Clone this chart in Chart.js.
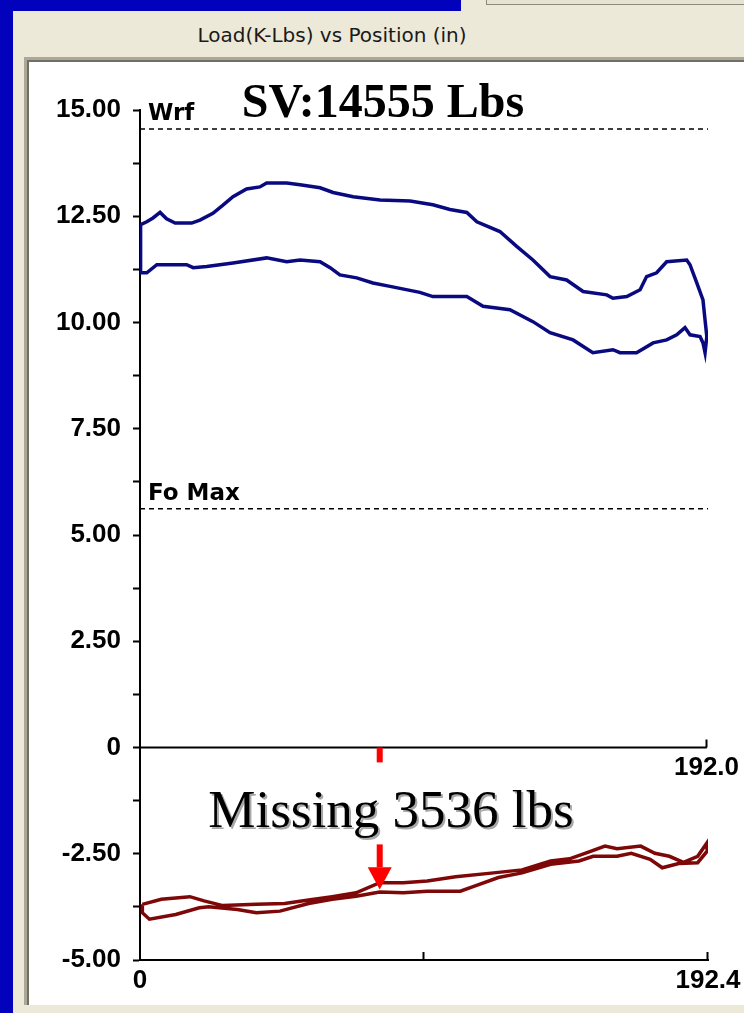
<!DOCTYPE html>
<html>
<head>
<meta charset="utf-8">
<script src="https://cdn.jsdelivr.net/npm/chart.js@4.4.1/dist/chart.umd.min.js"></script>
<style>
  html, body { margin: 0; padding: 0; width: 744px; height: 1013px; overflow: hidden; background: #0202bd; }
  #win { position: absolute; left: 13px; top: 11px; width: 731px; height: 1002px; background: #ece9d8; }
  #tab { position: absolute; left: 461px; top: 0; width: 283px; height: 14px; background: #ece9d8; }
  #tabbox { position: absolute; left: 25px; top: -1px; width: 270px; height: 4px; border: 1px solid #8c8a7e; background: #e6e3d3; }
  #title { position: absolute; left: 0; top: 23px; width: 664px; text-align: center; font: 20px "DejaVu Sans"; color: #1a1a1a; }
  #panel { position: absolute; left: 24px; top: 57px; width: 720px; height: 948px; background: #fff;
           border-left: 3px solid #aca899; border-top: 3px solid #aca899; box-sizing: border-box;
           box-shadow: inset 2px 2px 0 #716f64; }
  #card { position: absolute; left: 30px; top: 62px; }
</style>
</head>
<body>
<div id="win"></div>
<div id="tab"><div id="tabbox"></div></div>
<div id="title">Load(K-Lbs) vs Position (in)</div>
<div id="panel"></div>
<canvas id="card" width="714" height="943"></canvas>
<script>
// ===================== surface card (K-Lbs vs in) =====================
// upstroke left -> right, then downstroke right -> left
var surfacePos = [0.2, 0.2, 2.3, 4.4, 6.8, 9.0, 11.9, 17.5, 20.3, 24.7, 28.1, 31.5, 36.1, 40.6, 42.9, 49.7,
  54.2, 61.0, 65.4, 72.2, 81.3, 91.5, 99.2, 105.0, 110.7, 114.1, 121.9, 127.6, 133.1, 138.9, 144.5, 150.1,
  158.1, 160.2, 164.9, 169.4, 171.6, 175.0, 178.4, 185.2, 186.3, 188.6, 190.7, 191.4, 192.0, 191.4,
  190.7, 189.7, 186.3, 184.6, 181.8, 178.4, 173.8, 168.2, 162.6, 160.2, 153.4, 146.7, 138.9, 133.1, 125.3,
  116.2, 110.7, 99.2, 94.8, 84.7, 78.9, 73.4, 67.7, 64.4, 61.0, 54.2, 49.7, 42.9, 31.5, 22.6, 18.0, 15.8,
  9.0, 5.7, 2.3, 0.2, 0.2];
var surfaceLoad = [11.94, 12.30, 12.37, 12.46, 12.59, 12.44, 12.34, 12.34, 12.41, 12.57, 12.76, 12.96, 13.14, 13.19, 13.28, 13.28,
  13.24, 13.17, 13.06, 12.96, 12.88, 12.86, 12.77, 12.66, 12.59, 12.37, 12.14, 11.79, 11.47, 11.08, 11.00, 10.73,
  10.65, 10.57, 10.61, 10.77, 11.08, 11.17, 11.43, 11.47, 11.36, 10.93, 10.53, 10.06, 9.67, 9.29,
  9.52, 9.67, 9.71, 9.88, 9.71, 9.59, 9.52, 9.29, 9.29, 9.36, 9.29, 9.59, 9.76, 10.02, 10.30,
  10.38, 10.61, 10.61, 10.71, 10.85, 10.93, 11.05, 11.12, 11.29, 11.43, 11.47, 11.43, 11.52, 11.40, 11.32, 11.29, 11.36,
  11.36, 11.36, 11.17, 11.17, 11.94];

// ===================== downhole card =====================
var downholePos = [0.8, 7.2, 16.9, 21.7, 28.1, 39.4, 49.0, 57.1, 65.1, 73.2, 81.2, 89.2, 97.3, 106.9, 119.8,
  129.4, 139.1, 145.5, 151.9, 157.5, 161.6, 169.6, 174.4, 179.3, 184.1, 188.9, 192.1,
  192.1, 188.9, 182.5, 176.9, 172.8, 166.4, 161.6, 153.5, 148.7, 139.1, 129.4, 121.4, 113.3, 108.5, 97.3,
  89.2, 81.2, 73.2, 65.1, 57.1, 47.4, 39.4, 33.0, 23.3, 20.1, 12.1, 3.2, 0.8, 0.8];
var downholeLoad = [-3.69, -3.57, -3.51, -3.61, -3.72, -3.69, -3.67, -3.59, -3.51, -3.42, -3.18, -3.18, -3.14, -3.04, -2.95,
  -2.88, -2.67, -2.62, -2.46, -2.32, -2.38, -2.32, -2.49, -2.56, -2.70, -2.56, -2.24,
  -2.44, -2.71, -2.73, -2.83, -2.63, -2.49, -2.56, -2.56, -2.67, -2.75, -2.95, -3.06, -3.26, -3.38, -3.38,
  -3.42, -3.40, -3.50, -3.57, -3.67, -3.85, -3.89, -3.81, -3.75, -3.77, -3.93, -4.04, -3.89, -3.69];

// reference loads (K-Lbs)
var wrfLoad = 14.555;
var foMaxLoad = 5.62;
var strokeTop = 192.0;    // surface stroke length
var strokeBottom = 192.4; // downhole stroke length

// ticks
var yTicks = [-5, -3.75, -2.5, -1.25, 0, 1.25, 2.5, 3.75, 5, 6.25, 7.5, 8.75, 10, 11.25, 12.5, 13.75, 15];
var yLabels = ["-5.00", "", "-2.50", "", "0", "", "2.50", "", "5.00", "", "7.50", "", "10.00", "", "12.50", "", "15.00"];
var xTicks = [0, 96.2, 192.4];
var xLabels = ["0", "", "192.4"];

// "missing load" marker position
var missPos = 81.2;

function toPoints(xs, ys) {
  return xs.map(function (v, i) { return { x: v, y: ys[i] }; });
}

var tickFont = { family: "Liberation Sans", size: 26, weight: "bold" };

// draws the labels, end ticks and the red marks
var cardOverlay = {
  id: "cardOverlay",
  afterDraw: function (chart) {
    var ctx = chart.ctx, area = chart.chartArea;
    var x = chart.scales.x, y = chart.scales.y;
    ctx.save();
    ctx.fillStyle = "#000";
    ctx.strokeStyle = "#000";
    ctx.lineWidth = 2;

    // small up ticks on the bottom axis
    xTicks.forEach(function (v) {
      var px = Math.round(x.getPixelForValue(v)) - 0.5;
      if (v === 0) return;
      ctx.beginPath();
      ctx.moveTo(px, area.bottom);
      ctx.lineTo(px, area.bottom - 8);
      ctx.stroke();
    });
    // end tick on zero line
    var zx = Math.round(x.getPixelForValue(strokeTop)) - 0.5;
    var zy = y.getPixelForValue(0);
    ctx.beginPath();
    ctx.moveTo(zx, zy);
    ctx.lineTo(zx, zy - 8);
    ctx.stroke();

    ctx.font = "bold 26px 'Liberation Sans'";
    ctx.textAlign = "center";
    ctx.textBaseline = "top";
    ctx.fillText(strokeTop.toFixed(1), zx, zy + 7);

    ctx.font = "bold 23px 'DejaVu Sans'";
    ctx.textAlign = "left";
    ctx.textBaseline = "alphabetic";
    ctx.fillText("Wrf", area.left + 8, y.getPixelForValue(wrfLoad) - 9);
    ctx.fillText("Fo Max", area.left + 8, y.getPixelForValue(foMaxLoad) - 9);

    // big annotations
    ctx.textAlign = "center";
    ctx.font = "bold 48px 'Liberation Serif'";
    ctx.fillText("SV:14555 Lbs", x.getPixelForValue(82.3), y.getPixelForValue(14.84));

    ctx.font = "53px 'Liberation Serif'";
    ctx.fillStyle = "#a8a8a8";
    ctx.fillText("Missing 3536 lbs", x.getPixelForValue(85.0) + 2, y.getPixelForValue(-1.88) + 2);
    ctx.fillStyle = "#000";
    ctx.fillText("Missing 3536 lbs", x.getPixelForValue(85.0), y.getPixelForValue(-1.88));

    // red marks
    var mx = x.getPixelForValue(missPos);
    ctx.fillStyle = "#ff0000";
    ctx.fillRect(mx - 3, y.getPixelForValue(0), 6, y.getPixelForValue(-0.35) - y.getPixelForValue(0));
    var sTop = y.getPixelForValue(-2.28), sBot = y.getPixelForValue(-2.82), tip = y.getPixelForValue(-3.34);
    ctx.fillRect(mx - 3, sTop, 6, sBot - sTop);
    ctx.beginPath();
    ctx.moveTo(mx - 12, sBot);
    ctx.lineTo(mx + 12, sBot);
    ctx.lineTo(mx, tip);
    ctx.closePath();
    ctx.fill();
    ctx.restore();
  }
};

var ctx = document.getElementById("card").getContext("2d");
var card = new Chart(ctx, {
  type: "scatter",
  data: {
    datasets: [
      {
        data: [{ x: 0, y: wrfLoad }, { x: strokeBottom, y: wrfLoad }],
        showLine: true, borderColor: "#000", borderWidth: 1.5, borderDash: [5, 4], pointRadius: 0
      },
      {
        data: [{ x: 0, y: foMaxLoad }, { x: strokeBottom, y: foMaxLoad }],
        showLine: true, borderColor: "#000", borderWidth: 1.5, borderDash: [5, 4], pointRadius: 0
      },
      {
        data: [{ x: 0, y: 0 }, { x: strokeTop, y: 0 }],
        showLine: true, borderColor: "#000", borderWidth: 2, pointRadius: 0
      },
      {
        data: toPoints(surfacePos, surfaceLoad),
        showLine: true, borderColor: "#0a0a80", borderWidth: 3.5, pointRadius: 0, tension: 0
      },
      {
        data: toPoints(downholePos, downholeLoad),
        showLine: true, borderColor: "#7e0808", borderWidth: 3.5, pointRadius: 0, tension: 0
      }
    ]
  },
  options: {
    responsive: false,
    animation: false,
    devicePixelRatio: 1,
    layout: { padding: { top: 48, right: 36, bottom: 0, left: 0 } },
    plugins: { legend: { display: false }, tooltip: { enabled: false } },
    scales: {
      x: {
        type: "linear",
        min: 0,
        max: strokeBottom,
        afterBuildTicks: function (scale) {
          scale.ticks = xTicks.map(function (v) { return { value: v }; });
        },
        afterFit: function (scale) {
          scale.height = 45;
          scale.paddingLeft = 0;
          scale.paddingRight = 0;
        },
        grid: { display: true, drawOnChartArea: false, drawTicks: false },
        border: { display: true, color: "#000", width: 2 },
        ticks: {
          color: "#000",
          font: tickFont,
          padding: 5,
          maxRotation: 0,
          autoSkip: false,
          callback: function (v, i) { return xLabels[i]; }
        }
      },
      y: {
        type: "linear",
        min: -5,
        max: 15,
        afterBuildTicks: function (scale) {
          scale.ticks = yTicks.map(function (v) { return { value: v }; });
        },
        afterFit: function (scale) {
          scale.width = 110;
          scale.paddingTop = 0;
          scale.paddingBottom = 0;
        },
        grid: { display: true, drawOnChartArea: false, drawTicks: true, tickLength: 7, color: "#000", tickWidth: 2 },
        border: { display: true, color: "#000", width: 2 },
        ticks: {
          color: "#000",
          font: tickFont,
          padding: 12,
          autoSkip: false,
          callback: function (v, i) { return yLabels[i]; }
        }
      }
    }
  },
  plugins: [cardOverlay]
});
</script>
</body>
</html>
